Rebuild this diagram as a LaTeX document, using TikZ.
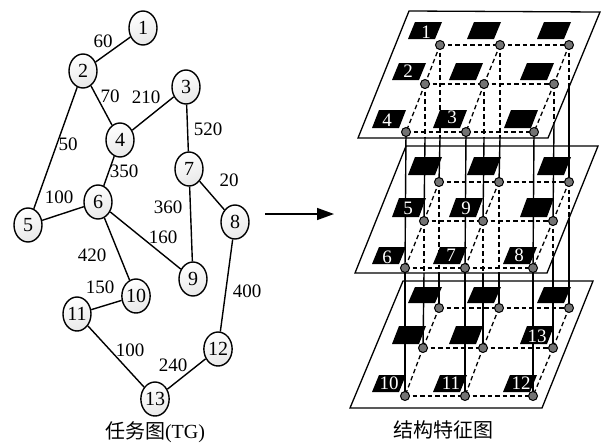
\documentclass[tikz,border=0pt]{standalone}
\usepackage{fontspec}
\setmainfont{Liberation Serif}
\newfontfamily\cjkfont{Noto Sans CJK SC}
\usetikzlibrary{shapes.geometric,arrows.meta}
\tikzset{
  task/.style={draw,line width=1.4pt,ellipse,minimum width=28pt,minimum height=34pt,inner sep=0pt,
    shading=axis,left color=white,right color=black!9,shading angle=20,font=\fontsize{20}{20}\selectfont},
  taskedge/.style={line width=1.4pt},
  wt/.style={inner sep=0pt,font=\fontsize{19}{19}\selectfont},
  layerbox/.style={line width=1.3pt},
  port/.style={circle,draw,line width=1pt,fill=black!55,minimum size=9pt,inner sep=0pt},
  gridline/.style={line width=1.3pt,dash pattern=on 4.5pt off 3pt},
  riser/.style={line width=1.4pt},
  corelabel/.style={inner sep=0pt,text=white,font=\fontsize{19}{19}\selectfont},
  captext/.style={inner sep=0pt,font=\fontsize{20}{20}\selectfont}
}
\begin{document}
\begin{tikzpicture}[x=1pt,y=-1pt]
\useasboundingbox (0,0) rectangle (604,445);
% ---- task graph
\node[task] (t1) at (143,28) {1};
\node[task] (t2) at (83,71) {2};
\node[task] (t3) at (186,87) {3};
\node[task] (t4) at (120,140) {4};
\node[task] (t5) at (28,225) {5};
\node[task] (t6) at (98,202) {6};
\node[task] (t7) at (189,169) {7};
\node[task] (t8) at (235,222) {8};
\node[task] (t9) at (193,279) {9};
\node[task] (t10) at (136,296) {10};
\node[task] (t11) at (77,314) {11};
\node[task] (t12) at (218,349) {12};
\node[task] (t13) at (155,399) {13};
\foreach \a/\b in {1/2,2/4,2/5,3/4,3/7,4/6,5/6,6/9,6/10,7/8,7/9,8/12,10/11,11/13,12/13}
  \draw[taskedge] (t\a) -- (t\b);
\node[wt] (w1) at (103,41) {60};
\node[wt] (w2) at (110,96) {70};
\node[wt] (w3) at (146,97) {210};
\node[wt] (w4) at (208,129) {520};
\node[wt] (w5) at (68,144) {50};
\node[wt] (w6) at (124,171) {350};
\node[wt] (w7) at (229,180) {20};
\node[wt] (w8) at (59,197) {100};
\node[wt] (w9) at (168,207) {360};
\node[wt] (w10) at (163,237) {160};
\node[wt] (w11) at (92,255) {420};
\node[wt] (w12) at (100,287) {150};
\node[wt] (w13) at (247,291) {400};
\node[wt] (w14) at (130,350) {100};
\node[wt] (w15) at (173,365) {240};
\node[captext] (captg) at (155,432) {{\cjkfont 任务图}(TG)};
% ---- arrow
\coordinate (arrA) at (265,214);
\coordinate (arrB) at (334,214);
\draw[line width=1.4pt,-{Triangle[length=17pt,width=12pt]}] (arrA) -- (arrB);
% ---- planes
\draw[layerbox] (409,11) -- (600,12) -- (548,138) -- (358,138) -- cycle;
\draw[layerbox] (406,146) -- (598,146) -- (547,273) -- (355,273) -- cycle;
\draw[layerbox] (403,281) -- (593,281) -- (542,408) -- (350,408) -- cycle;
% ---- core tiles: x of lower-left, top y, bottom y
\foreach \x/\t/\b in {
  408/22/39,467/22/39,537/22/39,392/63/80,449/63/80,520/63/80,372/110/128,433/110/128,504/110/128,
  408/157/175,467/157/175,537/157/175,392/198/217,449/198/217,520/198/217,372/247/264,433/247/264,503/247/264,
  408/287/303,467/287/303,537/287/303,392/326/344,449/326/344,520/326/344,372/375/392,433/375/392,503/375/392}
  \fill (\x,\b) -- ++(7,\t-\b) -- ++(27,0) -- ++(-7,\b-\t) -- cycle;
% ---- ports: plane, row, column
\foreach \n/\x/\y in {
  a11/440/45,a12/500/45,a13/569/45,a21/425/84,a22/484/84,a23/554/84,a31/406/132,a32/466/132,a33/534/132,
  b11/439/182,b12/499/182,b13/569/182,b21/424/221,b22/483/221,b23/553/221,b31/405/268,b32/465/268,b33/533/268,
  c11/439/308,c12/499/308,c13/569/308,c21/423/348,c22/483/348,c23/553/348,c31/405/396,c32/465/396,c33/533/396}
  \coordinate (\n) at (\x,\y);
% where risers leave each plane
\foreach \n/\x/\y in {
  ea11/440/138,ea12/500/138,ea13/569/87,ea21/425/138,ea22/484/138,ea23/554/123,
  eb11/439/273,eb12/499/273,eb13/569/218,eb21/424/273,eb22/483/273,eb23/553/258}
  \coordinate (\n) at (\x,\y);
% hidden and visible riser parts
\foreach \p/\q in {a/b,b/c}{
  \foreach \r in {11,12,13,21,22,23}{
    \draw[gridline] (\p\r) -- (e\p\r);
    \draw[riser] (e\p\r) -- (\q\r);
  }
  \foreach \r in {31,32,33}
    \draw[riser] (\p\r) -- (\q\r);
}
% grid
\foreach \p in {a,b,c}{
  \foreach \r in {1,2,3}{
    \draw[gridline] (\p\r1) -- (\p\r2);
    \draw[gridline] (\p\r2) -- (\p\r3);
  }
  \foreach \c in {1,2,3}{
    \draw[gridline] (\p1\c) -- (\p2\c);
    \draw[gridline] (\p2\c) -- (\p3\c);
  }
  \foreach \r in {1,2,3}
    \foreach \c in {1,2,3}
      \node[port] (n\p\r\c) at (\p\r\c) {};
}
% ---- core labels
\node[corelabel] (k1) at (426,32) {1};
\node[corelabel] (k2) at (408,71) {2};
\node[corelabel] (k4) at (387,120) {4};
\node[corelabel] (k3) at (452,117) {3};
\node[corelabel] (k5) at (408,208) {5};
\node[corelabel] (k9) at (466,208) {9};
\node[corelabel] (k6) at (387,257) {6};
\node[corelabel] (k7) at (451,255) {7};
\node[corelabel] (k8) at (519,255) {8};
\node[corelabel] (k13) at (537,336) {13};
\node[corelabel] (k10) at (389,383) {10};
\node[corelabel] (k11) at (451,383) {11};
\node[corelabel] (k12) at (521,383) {12};
\node[captext,font=\fontsize{20}{20}\selectfont\cjkfont] (capfs) at (443,430) {结构特征图};
\end{tikzpicture}
\end{document}
